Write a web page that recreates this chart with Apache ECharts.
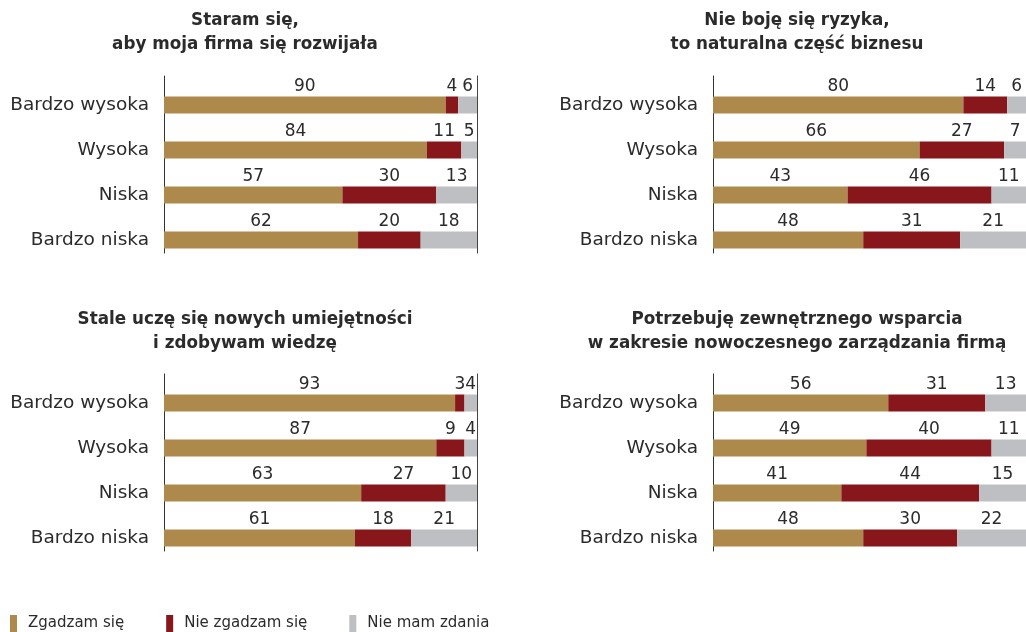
<!DOCTYPE html>
<html><head><meta charset="utf-8">
<script src="https://cdn.jsdelivr.net/npm/echarts@6/dist/echarts.min.js"></script>
<style>html,body{margin:0;padding:0;background:#fff}#c{width:1026px;height:632px}</style>
</head><body><div id="c"></div>
<script>
const categories = ['Bardzo wysoka', 'Wysoka', 'Niska', 'Bardzo niska'];
const seriesNames = ['Zgadzam się', 'Nie zgadzam się', 'Nie mam zdania'];
const titles = [
  'Staram się,\naby moja firma się rozwijała',
  'Nie boję się ryzyka,\nto naturalna część biznesu',
  'Stale uczę się nowych umiejętności\ni zdobywam wiedzę',
  'Potrzebuję zewnętrznego wsparcia\nw zakresie nowoczesnego zarządzania firmą'
];
const agreeA = [90, 84, 57, 62], disagreeA = [4, 11, 30, 20], noneA = [6, 5, 13, 18];
const agreeB = [80, 66, 43, 48], disagreeB = [14, 27, 46, 31], noneB = [6, 7, 11, 21];
const agreeC = [93, 87, 63, 61], disagreeC = [3, 9, 27, 18], noneC = [4, 4, 10, 21];
const agreeD = [56, 49, 41, 48], disagreeD = [31, 40, 44, 30], noneD = [13, 11, 15, 22];
const panelData = [[agreeA, disagreeA, noneA], [agreeB, disagreeB, noneB], [agreeC, disagreeC, noneC], [agreeD, disagreeD, noneD]];

const colors = ['#AD8A4C', '#88171B', '#BEBFC3'];
const FONT = 'DejaVu Sans';
const TXT = '#2b2b2b';

const panels = [
  { left: 164, right: 549, barTop: 82.5, lineTop: 76, titleX: 240, titleY: 4, rightLine: true },
  { left: 713, right: 0, barTop: 82.5, lineTop: 76, titleX: 792, titleY: 4, rightLine: false },
  { left: 164, right: 549, barTop: 380.5, lineTop: 374, titleX: 240, titleY: 303, rightLine: true },
  { left: 713, right: 0, barTop: 380.5, lineTop: 374, titleX: 792, titleY: 303, rightLine: false }
];

const grid = [], xAxis = [], yAxis = [], series = [], title = [];
panels.forEach((p, i) => {
  const gBar = grid.length;
  grid.push({ left: p.left, right: p.right, top: p.barTop, height: 180 });
  const gLine = grid.length;
  grid.push({ left: p.left, right: p.right, top: p.lineTop, height: 177 });

  const xBar = xAxis.length;
  xAxis.push({ gridIndex: gBar, type: 'value', min: 0, max: 100, show: false });
  xAxis.push({ gridIndex: gLine, type: 'value', min: 0, max: 100, show: false });

  const yBar = yAxis.length;
  yAxis.push({
    gridIndex: gBar, type: 'category', data: categories, inverse: true,
    axisLine: { show: false }, axisTick: { show: false },
    axisLabel: { fontFamily: FONT, fontSize: 18.5, color: TXT, margin: 15 }
  });
  yAxis.push({
    gridIndex: gLine, type: 'value', min: 0, max: 1, position: 'left',
    axisLine: { show: true, lineStyle: { color: '#333', width: 1 } },
    axisTick: { show: false }, axisLabel: { show: false }, splitLine: { show: false }
  });
  if (p.rightLine) {
    yAxis.push({
      gridIndex: gLine, type: 'value', min: 0, max: 1, position: 'right',
      axisLine: { show: true, lineStyle: { color: '#444', width: 1 } },
      axisTick: { show: false }, axisLabel: { show: false }, splitLine: { show: false }
    });
  }

  panelData[i].forEach((vals, k) => {
    series.push({
      name: seriesNames[k], type: 'bar', stack: 'p' + i,
      xAxisIndex: xBar, yAxisIndex: yBar,
      data: vals, barWidth: 17,
      itemStyle: { color: colors[k] },
      label: { show: true, position: 'top', distance: 1.5, fontFamily: FONT, fontSize: 17, color: TXT },
      emphasis: { disabled: true }, animation: false
    });
  });

  title.push({
    text: titles[i], left: p.titleX, top: p.titleY, textAlign: 'center',
    textStyle: { fontFamily: FONT, fontSize: 16.8, fontWeight: 'bold', color: TXT, lineHeight: 24 }
  });
});

const chart = echarts.init(document.getElementById('c'), null, { renderer: 'canvas' });
chart.setOption({
  animation: false,
  color: colors,
  title,
  legend: {
    data: seriesNames, left: 5, top: 610, icon: 'rect', itemWidth: 7, itemHeight: 17, itemGap: 42,
    textStyle: { fontFamily: FONT, fontSize: 15, color: TXT, padding: [0, 0, 0, 6] }, selectedMode: false
  },
  grid, xAxis, yAxis, series
});
</script></body></html>
